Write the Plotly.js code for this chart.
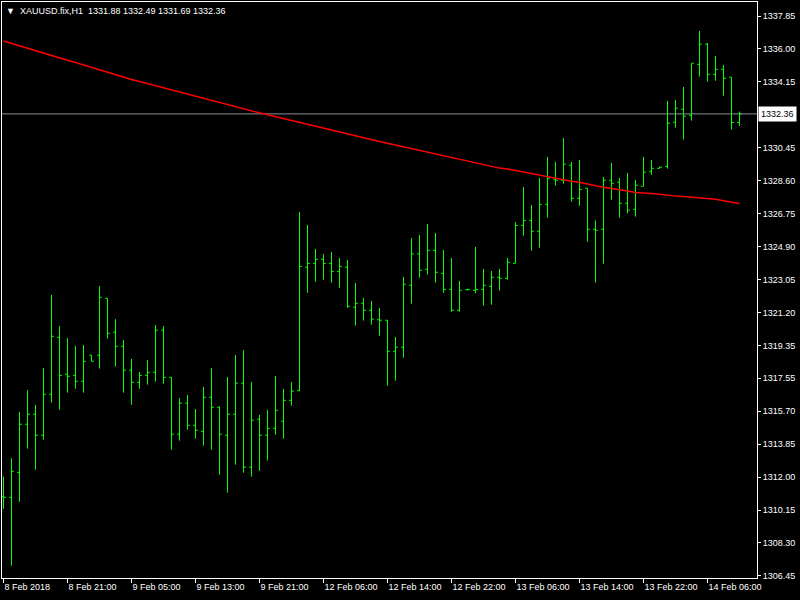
<!DOCTYPE html>
<html>
<head>
<meta charset="utf-8">
<script src="https://cdn.plot.ly/plotly-3.0.1.min.js"></script>
<style>html,body{margin:0;padding:0;background:#000;}#chart{width:800px;height:600px;}</style>
</head>
<body>
<div id="chart"></div>
<script>
const symbol = "XAUUSD.fix,H1";
const opens = [1310.90,1310.86,1312.26,1314.96,1315.52,1314.34,1316.64,1319.83,1317.76,1317.70,
1317.37,1318.83,1318.83,1322.02,1320.12,1319.33,1317.99,1317.31,1317.70,1317.87,
1320.23,1317.59,1314.40,1316.14,1314.90,1314.56,1316.47,1315.91,1314.34,1315.52,
1317.26,1312.55,1315.24,1314.34,1314.73,1315.13,1316.30,1316.86,1323.76,1323.98,
1324.21,1323.98,1323.53,1323.76,1321.52,1321.74,1321.35,1320.82,1320.79,1319.05,
1319.28,1322.75,1324.51,1323.65,1324.71,1323.42,1322.52,1321.35,1322.50,1322.47,
1322.52,1322.69,1323.20,1323.14,1323.98,1326.11,1326.39,1325.78,1327.29,1328.70,
1328.64,1329.48,1327.63,1328.19,1325.89,1325.89,1328.64,1328.53,1327.35,1327.01,
1328.30,1329.14,1329.31,1329.42,1331.89,1332.62,1332.28,1335.14,1336.27,1334.58,
1334.86,1334.42,1331.88];
const highs = [1312.02,1313.05,1315.65,1316.88,1316.04,1318.11,1322.21,1320.47,1319.79,1319.35,
1319.40,1318.83,1322.71,1322.02,1320.85,1319.68,1318.62,1317.89,1318.56,1320.52,
1320.47,1317.59,1316.43,1316.60,1315.81,1317.05,1318.11,1315.96,1317.61,1318.84,
1319.12,1317.33,1315.48,1315.76,1317.67,1316.94,1317.33,1326.86,1326.13,1324.79,
1324.51,1324.62,1324.28,1324.17,1322.88,1322.04,1321.87,1321.48,1320.79,1319.85,
1323.22,1325.40,1325.57,1326.19,1325.68,1324.73,1324.28,1322.99,1322.55,1324.90,
1323.67,1323.55,1323.67,1324.28,1326.30,1328.26,1327.25,1328.77,1329.95,1329.67,
1331.01,1329.67,1329.78,1328.19,1326.39,1328.82,1329.61,1328.77,1329.05,1328.66,
1329.95,1329.78,1329.40,1333.09,1333.14,1333.87,1335.20,1337.01,1336.34,1335.61,
1335.11,1334.42,1332.49];
const lows = [1310.22,1307.03,1310.61,1313.59,1312.41,1314.09,1316.17,1315.77,1316.73,1316.95,
1316.73,1318.49,1318.08,1319.76,1318.19,1316.73,1316.05,1316.95,1317.18,1317.35,
1317.23,1313.53,1314.04,1314.65,1314.15,1313.76,1313.53,1312.13,1311.12,1312.69,
1312.24,1312.02,1312.35,1312.92,1314.37,1314.15,1316.00,1316.80,1322.33,1322.95,
1323.06,1322.90,1322.61,1321.49,1320.49,1320.77,1320.54,1319.92,1317.12,1317.40,
1318.69,1321.72,1323.18,1323.35,1322.90,1322.33,1321.27,1321.27,1322.47,1322.30,
1321.61,1321.66,1322.45,1323.06,1323.98,1325.53,1324.69,1324.86,1326.54,1328.34,
1328.45,1327.44,1327.21,1325.19,1322.90,1323.96,1327.55,1326.54,1326.79,1326.60,
1328.30,1328.95,1329.30,1329.29,1331.59,1330.92,1331.98,1334.45,1334.17,1334.22,
1333.38,1331.48,1331.69];
const closes = [1310.86,1312.32,1314.96,1315.52,1314.34,1316.64,1319.89,1317.70,1317.65,1317.37,
1318.49,1318.49,1322.08,1320.06,1319.33,1317.99,1317.31,1317.70,1317.87,1320.23,
1317.59,1314.40,1316.14,1314.90,1314.62,1316.47,1315.91,1314.40,1315.52,1317.26,
1312.55,1315.18,1314.34,1314.73,1315.74,1316.30,1316.81,1323.81,1323.98,1324.21,
1323.98,1323.53,1323.81,1321.57,1321.74,1321.35,1320.85,1320.79,1319.05,1319.28,
1322.81,1324.51,1323.59,1324.71,1323.48,1322.52,1321.35,1322.47,1322.52,1322.52,
1322.75,1323.20,1323.14,1324.04,1326.11,1326.39,1325.78,1327.29,1328.75,1328.64,
1329.54,1327.63,1328.13,1325.89,1325.83,1328.64,1328.47,1327.35,1326.96,1328.36,
1329.09,1329.31,1329.37,1331.84,1332.68,1332.23,1335.20,1336.27,1334.58,1334.86,
1334.36,1331.88,1332.36];
const movingAvg = [1336.45,1336.31,1336.18,1336.04,1335.91,1335.78,1335.64,1335.51,1335.37,1335.24,
1335.10,1334.97,1334.83,1334.70,1334.56,1334.43,1334.29,1334.18,1334.06,1333.94,
1333.82,1333.71,1333.59,1333.48,1333.36,1333.24,1333.12,1333.01,1332.89,1332.77,
1332.65,1332.53,1332.42,1332.31,1332.20,1332.10,1331.99,1331.88,1331.78,1331.67,
1331.56,1331.45,1331.35,1331.24,1331.13,1331.03,1330.92,1330.81,1330.71,1330.61,
1330.50,1330.40,1330.31,1330.21,1330.11,1330.01,1329.91,1329.81,1329.71,1329.61,
1329.51,1329.42,1329.32,1329.27,1329.18,1329.09,1329.01,1328.92,1328.83,1328.74,
1328.66,1328.59,1328.53,1328.42,1328.33,1328.25,1328.19,1328.12,1328.04,1327.96,
1327.91,1327.90,1327.86,1327.79,1327.75,1327.73,1327.70,1327.66,1327.62,1327.57,
1327.49,1327.40,1327.34];
const timeTickIdx = [0,8,16,24,32,40,48,56,64,72,80,88];
const timeTickLabels = ["8 Feb 2018","8 Feb 21:00","9 Feb 05:00","9 Feb 13:00","9 Feb 21:00",
"12 Feb 06:00","12 Feb 14:00","12 Feb 22:00","13 Feb 06:00","13 Feb 14:00","13 Feb 22:00","14 Feb 06:00"];
const priceTicks = [1337.85,1336.00,1334.15,1330.45,1328.60,1326.75,1324.90,1323.05,1321.20,
1319.35,1317.55,1315.70,1313.85,1312.00,1310.15,1308.30,1306.45];

const idx = opens.map((_, i) => i);
const n = opens.length;
const lastO = opens[n-1], lastH = highs[n-1], lastL = lows[n-1], lastC = closes[n-1];
const FONT = "Liberation Sans, Arial, sans-serif";

const traces = [
  {
    type: 'scatter', mode: 'lines', x: idx, y: movingAvg,
    line: {color: '#ff0000', width: 1.5}, hoverinfo: 'skip', showlegend: false
  },
  {
    type: 'ohlc', x: idx, open: opens, high: highs, low: lows, close: closes,
    increasing: {line: {color: '#00ff00', width: 1}},
    decreasing: {line: {color: '#00ff00', width: 1}},
    tickwidth: 0.3, showlegend: false, hoverinfo: 'skip'
  }
];

const layout = {
  width: 800, height: 600,
  paper_bgcolor: '#000000', plot_bgcolor: '#000000',
  margin: {l: 2, r: 43, t: 2, b: 22, pad: 0},
  showlegend: false,
  hovermode: false,
  font: {family: FONT, size: 9, color: '#ffffff'},
  xaxis: {
    type: 'linear', range: [-0.1875, 94.1875], autorange: false,
    rangeslider: {visible: false},
    showgrid: false, zeroline: false,
    showline: true, linecolor: '#ffffff', linewidth: 1, mirror: true,
    ticks: 'outside', ticklen: 4, tickcolor: '#ffffff', tickwidth: 1,
    tickmode: 'array', tickvals: timeTickIdx, ticktext: timeTickLabels,
    ticklabelposition: 'outside right',
    tickfont: {family: FONT, size: 9, color: '#ffffff'}
  },
  yaxis: {
    side: 'right', range: [1306.337, 1338.635], autorange: false,
    showgrid: false, zeroline: false,
    showline: true, linecolor: '#ffffff', linewidth: 1, mirror: true,
    ticks: 'outside', ticklen: 3, tickcolor: '#ffffff', tickwidth: 1,
    tickmode: 'array', tickvals: priceTicks,
    ticktext: priceTicks.map(v => v.toFixed(2)),
    tickfont: {family: FONT, size: 9, color: '#ffffff'}
  },
  shapes: [
    {type: 'line', xref: 'paper', x0: 0, x1: 1, yref: 'y', y0: lastC, y1: lastC,
     line: {color: '#8a8f99', width: 1}, layer: 'below'}
  ],
  annotations: [
    {xref: 'paper', yref: 'y', x: 1, y: lastC, xanchor: 'left', yanchor: 'middle',
     xshift: 1, text: lastC.toFixed(2), showarrow: false, bgcolor: '#ffffff',
     font: {family: FONT, size: 9, color: '#000000'}, borderpad: 2},
    {xref: 'paper', yref: 'paper', x: 0, y: 1, xanchor: 'left', yanchor: 'top',
     xshift: 2, yshift: -2, showarrow: false, align: 'left',
     text: '\u25BC\u00a0\u00a0' + symbol + '\u00a0\u00a0' + [lastO, lastH, lastL, lastC].map(v => v.toFixed(2)).join('\u00a0'),
     font: {family: FONT, size: 9, color: '#ffffff'}}
  ]
};

Plotly.newPlot('chart', traces, layout, {displayModeBar: false, responsive: false});
</script>
</body>
</html>
